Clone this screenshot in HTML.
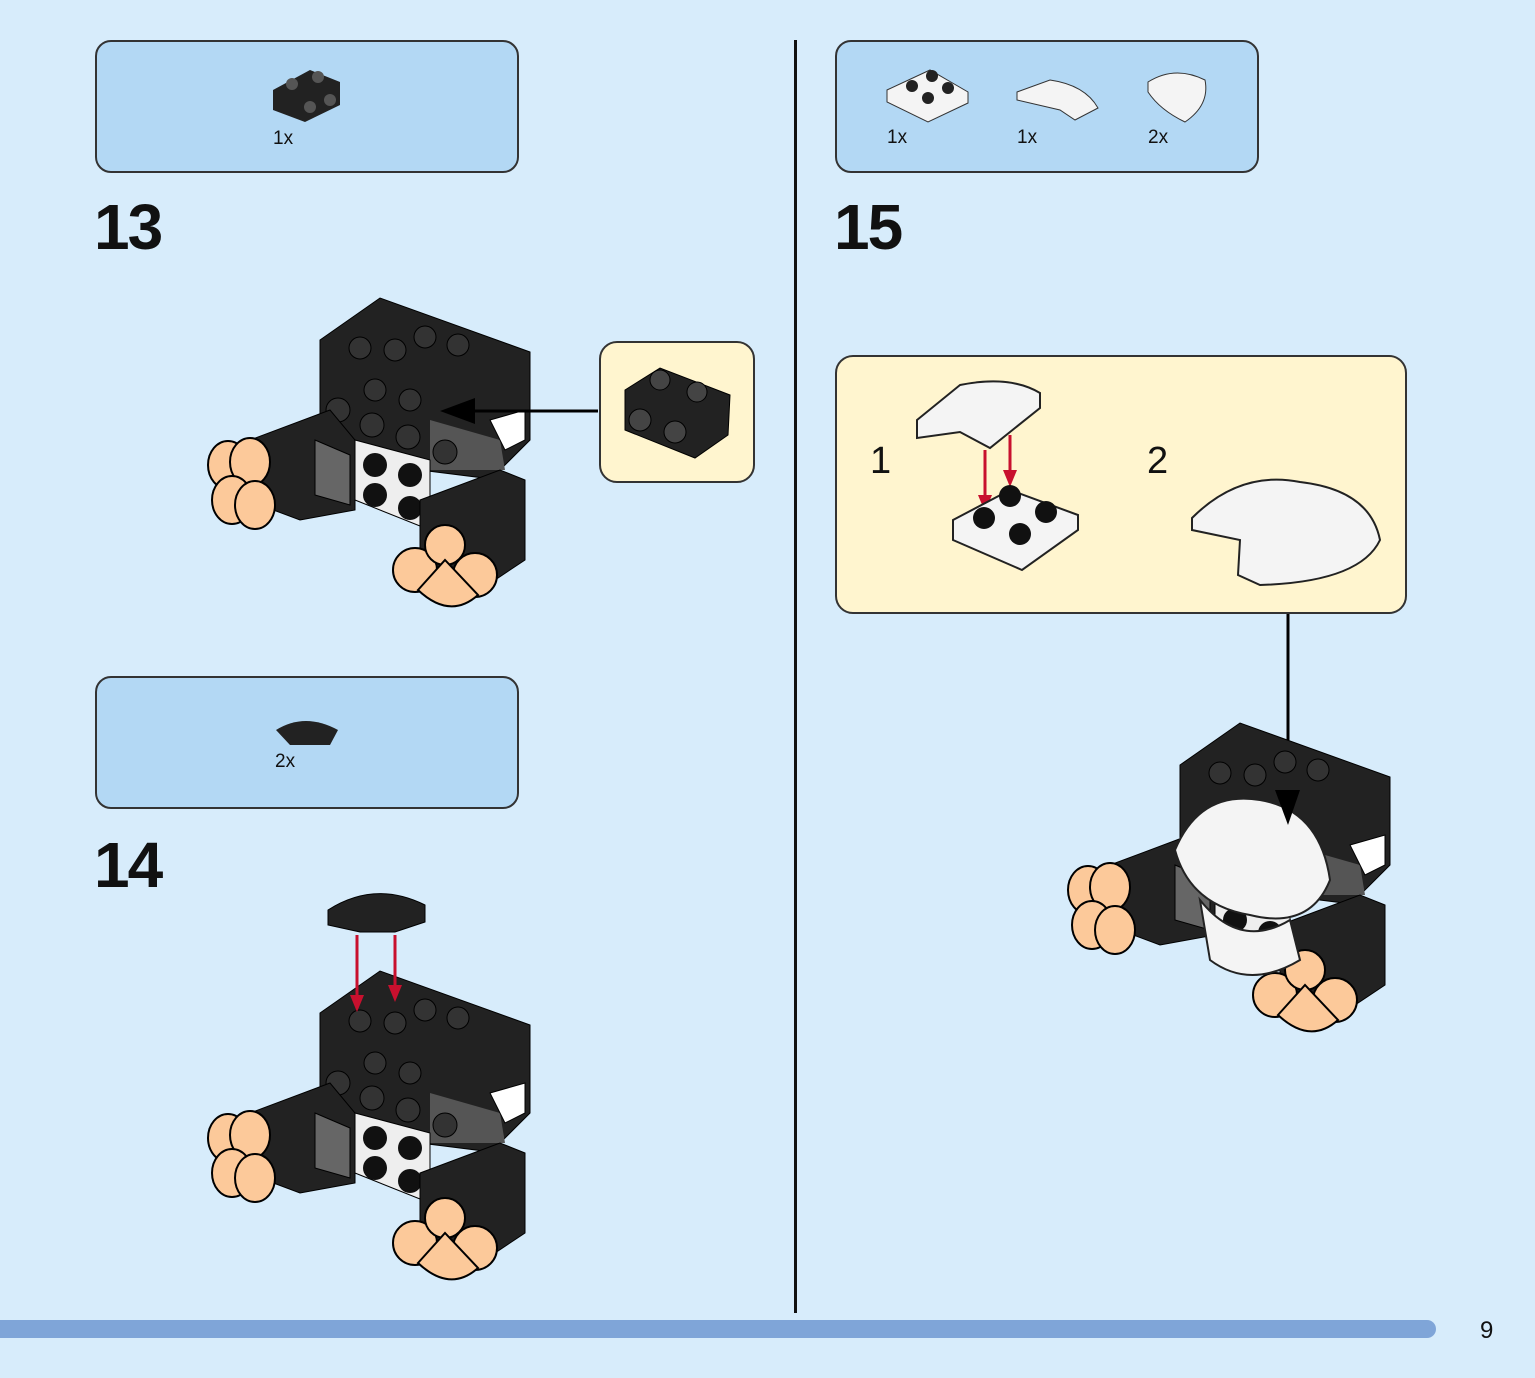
<!DOCTYPE html>
<html><head><meta charset="utf-8">
<style>
html,body{margin:0;padding:0}
body{width:1535px;height:1378px;background:#d7ecfb;position:relative;overflow:hidden;font-family:"Liberation Sans",sans-serif}
.box{position:absolute;background:#b3d8f4;border:2px solid #333;border-radius:16px;box-sizing:border-box}
.call{position:absolute;background:#fff5cf;border:2px solid #333;border-radius:18px;box-sizing:border-box}
.num{position:absolute;font-size:64px;font-weight:bold;color:#111;letter-spacing:-2px}
.lbl{position:absolute;font-size:19px;color:#111}
svg{position:absolute;left:0;top:0}
</style></head><body>
<div class="box" style="left:95px;top:40px;width:424px;height:133px"></div>
<div class="box" style="left:95px;top:676px;width:424px;height:133px"></div>
<div class="box" style="left:835px;top:40px;width:424px;height:133px"></div>
<div class="call" style="left:599px;top:341px;width:156px;height:142px"></div>
<div class="call" style="left:835px;top:355px;width:572px;height:259px"></div>
<div style="position:absolute;left:794px;top:40px;width:3px;height:1273px;background:#111"></div>
<div style="position:absolute;left:0;top:1320px;width:1436px;height:18px;background:#7fa5d8;border-radius:0 9px 9px 0"></div>
<div class="lbl" style="left:1480px;top:1317px;font-size:24px">9</div>
<div class="num" style="left:94px;top:190px">13</div>
<div class="num" style="left:94px;top:828px">14</div>
<div class="num" style="left:834px;top:190px">15</div>
<div class="lbl" style="left:273px;top:128px">1x</div>
<div class="lbl" style="left:275px;top:751px">2x</div>
<div class="lbl" style="left:887px;top:127px">1x</div>
<div class="lbl" style="left:1017px;top:127px">1x</div>
<div class="lbl" style="left:1148px;top:127px">2x</div>
<div class="lbl" style="left:870px;top:440px;font-size:38px">1</div>
<div class="lbl" style="left:1147px;top:440px;font-size:38px">2</div>
<svg width="1535" height="1378" viewBox="0 0 1535 1378">
<defs>
<g id="robot">
 <polygon points="320,340 380,298 530,352 530,440 500,470 500,480 420,470 320,430" fill="#222" stroke="#000"/>
 <polygon points="430,420 500,440 505,470 430,470" fill="#555"/>
 <polygon points="355,440 430,460 430,530 355,500" fill="#eee" stroke="#000"/>
 <g fill="#111"><circle cx="375" cy="465" r="12"/><circle cx="410" cy="475" r="12"/><circle cx="375" cy="495" r="12"/><circle cx="410" cy="508" r="12"/></g>
 <g fill="#333" stroke="#000"><circle cx="338" cy="410" r="12"/><circle cx="372" cy="425" r="12"/><circle cx="408" cy="437" r="12"/><circle cx="445" cy="452" r="12"/><circle cx="360" cy="348" r="11"/><circle cx="395" cy="350" r="11"/><circle cx="425" cy="337" r="11"/><circle cx="458" cy="345" r="11"/><circle cx="375" cy="390" r="11"/><circle cx="410" cy="400" r="11"/></g>
 <polygon points="250,440 330,410 355,440 355,510 300,520 260,505" fill="#222" stroke="#000"/>
 <polygon points="315,440 350,455 350,505 315,495" fill="#666" stroke="#000"/>
 <polygon points="420,500 500,470 525,480 525,560 480,590 420,560" fill="#222" stroke="#000"/>
 <g fill="#fcc99a" stroke="#000" stroke-width="2">
  <ellipse cx="228" cy="465" rx="20" ry="24"/><ellipse cx="250" cy="462" rx="20" ry="24"/><ellipse cx="232" cy="500" rx="20" ry="24"/><ellipse cx="255" cy="505" rx="20" ry="24"/>
  <circle cx="415" cy="570" r="22"/><circle cx="475" cy="575" r="22"/><circle cx="445" cy="545" r="20"/><path d="M418,590 L445,560 L478,595 Q450,620 418,590Z"/>
 </g>
 <polygon points="490,420 525,410 525,440 505,450" fill="#fff" stroke="#000"/>
</g>
</defs>
<use href="#robot"/>
<use href="#robot" y="673"/>
<!-- step13 arrow & callout part -->
<line x1="598" y1="411" x2="470" y2="411" stroke="#000" stroke-width="3"/>
<polygon points="440,411 475,398 475,424" fill="#000"/>
<polygon points="625,390 660,368 730,395 728,435 695,458 625,430" fill="#222" stroke="#000"/>
<g fill="#444" stroke="#000"><circle cx="660" cy="380" r="10"/><circle cx="697" cy="392" r="10"/><circle cx="640" cy="420" r="11"/><circle cx="675" cy="432" r="11"/></g>
<!-- parts in boxes -->
<polygon points="273,90 310,70 340,82 340,105 305,122 273,110" fill="#222"/>
<g fill="#555"><circle cx="292" cy="84" r="6"/><circle cx="318" cy="77" r="6"/><circle cx="310" cy="107" r="6"/><circle cx="330" cy="100" r="6"/></g>
<path d="M276,730 Q305,712 338,730 L330,745 L290,745 Z" fill="#222"/>
<!-- step14 tile & arrows -->
<path d="M328,910 Q375,880 425,905 L425,922 L395,932 L360,932 L328,925 Z" fill="#222" stroke="#000"/>
<line x1="357" y1="935" x2="357" y2="1000" stroke="#c8102e" stroke-width="3"/><polygon points="350,995 364,995 357,1012" fill="#c8102e"/>
<line x1="395" y1="935" x2="395" y2="990" stroke="#c8102e" stroke-width="3"/><polygon points="388,985 402,985 395,1002" fill="#c8102e"/>
<!-- step15 parts -->
<polygon points="887,90 930,70 968,92 968,103 928,122 887,102" fill="#f4f4f4" stroke="#333"/>
<g fill="#222"><circle cx="912" cy="86" r="6"/><circle cx="932" cy="76" r="6"/><circle cx="928" cy="98" r="6"/><circle cx="948" cy="88" r="6"/></g>
<path d="M1017,92 L1050,80 Q1085,85 1098,108 L1075,120 L1060,110 L1017,100 Z" fill="#f4f4f4" stroke="#333"/>
<path d="M1148,82 Q1175,65 1205,80 Q1210,105 1185,122 Q1160,110 1148,92 Z" fill="#f4f4f4" stroke="#333"/>
<!-- callout 15 -->
<path d="M917,420 L960,385 Q1010,375 1040,393 L1040,408 L990,448 L960,432 L917,438 Z" fill="#f4f4f4" stroke="#222" stroke-width="2"/>
<line x1="985" y1="450" x2="985" y2="500" stroke="#c8102e" stroke-width="3"/><polygon points="978,495 992,495 985,512" fill="#c8102e"/>
<line x1="1010" y1="435" x2="1010" y2="475" stroke="#c8102e" stroke-width="3"/><polygon points="1003,470 1017,470 1010,487" fill="#c8102e"/>
<polygon points="953,520 1010,490 1078,515 1078,530 1022,570 953,540" fill="#f4f4f4" stroke="#222" stroke-width="2"/>
<g fill="#111"><circle cx="984" cy="518" r="11"/><circle cx="1010" cy="496" r="11"/><circle cx="1020" cy="534" r="11"/><circle cx="1046" cy="512" r="11"/></g>
<path d="M1192,518 Q1240,470 1300,482 Q1370,490 1380,540 Q1360,582 1260,585 L1238,575 L1240,540 L1192,530 Z" fill="#f4f4f4" stroke="#222" stroke-width="2"/>
<line x1="1288" y1="614" x2="1288" y2="800" stroke="#000" stroke-width="3"/>
<!-- robot 15 -->
<use href="#robot" x="860" y="425"/>
<path d="M1175,850 Q1200,790 1260,800 Q1320,810 1330,880 Q1310,930 1250,915 Q1190,905 1175,850Z" fill="#f4f4f4" stroke="#222" stroke-width="2"/>
<path d="M1200,900 Q1240,950 1290,920 L1300,960 Q1250,990 1210,960 Z" fill="#f4f4f4" stroke="#222" stroke-width="2"/>
<polygon points="1275,790 1300,790 1288,825" fill="#000"/>
</svg>
</body></html>
